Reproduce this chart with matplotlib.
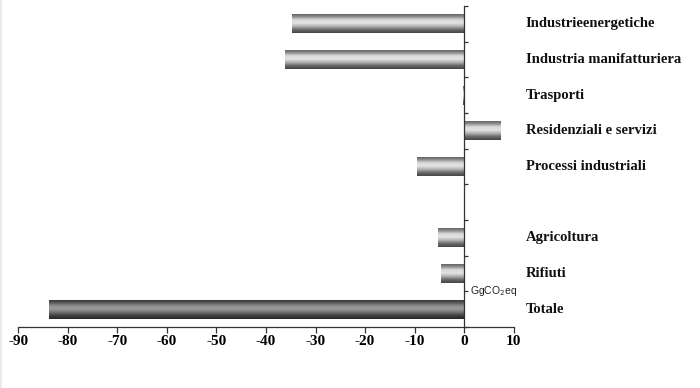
import numpy as np
import matplotlib
matplotlib.use("Agg")
import matplotlib.pyplot as plt
from matplotlib.colors import LinearSegmentedColormap
from matplotlib.lines import Line2D

categories = ["Industrieenergetiche", "Industria manifatturiera", "Trasporti",
              "Residenziali e servizi", "Processi industriali", "",
              "Agricoltura", "Rifiuti", "Totale"]
values = [-34.8, -36.1, -0.3, 7.4, -9.6, 0.0, -5.3, -4.7, -83.8]
xticks = [-90, -80, -70, -60, -50, -40, -30, -20, -10, 0, 10]
unit_label = "GgCO$_2$eq"

fig = plt.figure(figsize=(7.0, 3.88), dpi=100)
ax = fig.add_axes([0.0261, 0.1572, 0.7077, 0.8273])

ypos = np.arange(len(categories))
bar_h = 0.54

cmap_gray = LinearSegmentedColormap.from_list(
    "g", ["#555555", "#8a8a8a", "#d8d8d8", "#e4e4e4", "#b0b0b0", "#6a6a6a", "#444444"])
cmap_dark = LinearSegmentedColormap.from_list(
    "d", ["#2e2e2e", "#555555", "#8c8c8c", "#9a9a9a", "#707070", "#404040", "#262626"])
grad = np.linspace(0, 1, 64).reshape(-1, 1)

bars = ax.barh(ypos, values, height=bar_h, color="none", edgecolor="none", zorder=2)
for i, (b, v) in enumerate(zip(bars, values)):
    if categories[i] == "":
        continue
    x0, y0 = b.get_x(), b.get_y()
    w, h = b.get_width(), b.get_height()
    if w == 0:
        continue
    cm = cmap_dark if categories[i] == "Totale" else cmap_gray
    im = ax.imshow(grad, cmap=cm, aspect="auto",
                   extent=[x0, x0 + w, y0 + h, y0], zorder=2, interpolation="bilinear")
    im.set_clip_path(b)

ax.set_xlim(-90, 10)
ax.set_ylim(len(categories) - 0.5, -0.5)

for s in ["top", "right"]:
    ax.spines[s].set_visible(False)
ax.spines["left"].set_position(("data", 0))
ax.spines["left"].set_color("#333333")
ax.spines["bottom"].set_color("#333333")
ax.spines["left"].set_linewidth(0.9)
ax.spines["bottom"].set_linewidth(0.9)
ax.spines["left"].set_zorder(3)

ax.set_yticks(np.arange(-0.5, len(categories), 1.0))
ax.set_yticklabels([])
ax.tick_params(axis="y", direction="in", length=3, width=0.9, color="#333333")

ax.set_xticks(xticks)
ax.set_xticklabels([str(t) for t in xticks],
                   fontdict={"family": "Liberation Serif", "weight": "bold", "size": 11})
ax.tick_params(axis="x", direction="out", length=4, width=0.9, color="#333333", pad=2)

for i, c in enumerate(categories):
    if c:
        ax.text(12.4, ypos[i], c, ha="left", va="center", clip_on=False,
                family="Liberation Serif", weight="bold", fontsize=10.5, color="#111111")

ax.text(1.2, 7.5, unit_label, ha="left", va="center", fontsize=7.5,
        family="Liberation Sans", color="#222222", clip_on=False)

fig.add_artist(Line2D([0.0015, 0.0015], [0, 1], transform=fig.transFigure,
                      color="#e6e6e6", linewidth=1.2))

fig.savefig("out.png", dpi=100, facecolor="white")
